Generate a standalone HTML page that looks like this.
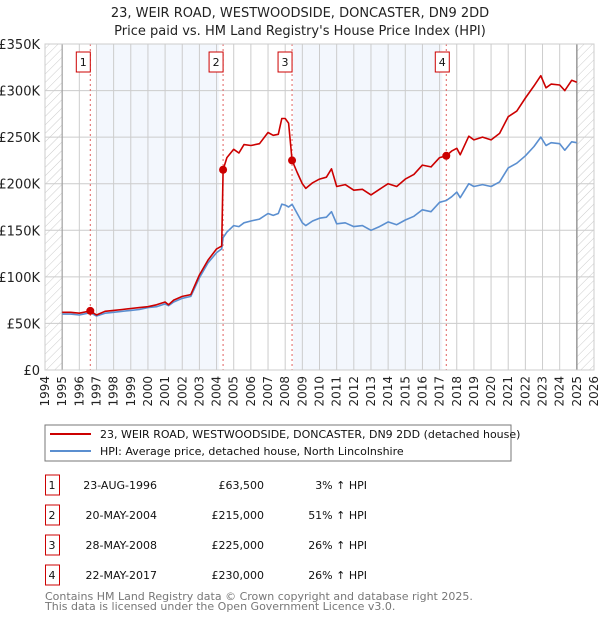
<!DOCTYPE html>
<html><head><meta charset="utf-8"><style>
body{margin:0;background:#fff;font-family:"DejaVu Sans","Liberation Sans",sans-serif;}
svg text{font-family:"DejaVu Sans","Liberation Sans",sans-serif;}
</style></head><body>
<svg id="c" width="600" height="620" xmlns="http://www.w3.org/2000/svg">
<defs><pattern id="hatch" width="6" height="6" patternUnits="userSpaceOnUse" patternTransform="rotate(45)"><line x1="0" y1="0" x2="0" y2="6" stroke="#ccc" stroke-width="1"/></pattern></defs>
<text x="300" y="17" text-anchor="middle" font-size="13" fill="#222">23, WEIR ROAD, WESTWOODSIDE, DONCASTER, DN9 2DD</text>
<text x="300" y="35" text-anchor="middle" font-size="13" fill="#222">Price paid vs. HM Land Registry's House Price Index (HPI)</text>
<g id="plot"></g>
<rect x="45" y="425" width="466" height="36" fill="#fff" stroke="#777"/>
<line x1="50" y1="434" x2="91" y2="434" stroke="#cc0000" stroke-width="2"/>
<text x="100" y="438" font-size="11" fill="#111">23, WEIR ROAD, WESTWOODSIDE, DONCASTER, DN9 2DD (detached house)</text>
<line x1="50" y1="451" x2="91" y2="451" stroke="#5b8fd0" stroke-width="2"/>
<text x="100" y="455" font-size="11" fill="#111">HPI: Average price, detached house, North Lincolnshire</text>
<g id="table"></g>
<text x="45" y="600" font-size="11" fill="#777">Contains HM Land Registry data © Crown copyright and database right 2025.</text>
<text x="45" y="610" font-size="11" fill="#777">This data is licensed under the Open Government Licence v3.0.</text>
</svg>
<script>
const dates=[1995,1995.5,1996,1996.64,1997,1997.5,1998,1998.5,1999,1999.5,2000,2000.5,2001,2001.2,2001.5,2002,2002.5,2003,2003.5,2004,2004.3,2004.38,2004.6,2005,2005.3,2005.6,2006,2006.5,2007,2007.3,2007.6,2007.8,2008,2008.2,2008.4,2008.7,2009,2009.2,2009.6,2010,2010.4,2010.7,2011,2011.5,2012,2012.5,2013,2013.5,2014,2014.5,2015,2015.5,2016,2016.5,2017,2017.39,2017.7,2018,2018.2,2018.7,2019,2019.5,2020,2020.5,2021,2021.5,2022,2022.5,2022.9,2023.2,2023.5,2024,2024.3,2024.7,2025];
const hpiValues=[60,60,59,61.5,58,61,62,63,64,65,67,68,71,69,73,77,79,99,115,126,130,142,148,155,154,158,160,162,168,166,168,178,177,175,178,168,158,155,160,163,164,170,157,158,154,155,150,154,159,156,161,165,172,170,180,182,186,191,185,200,197,199,197,202,217,222,230,240,250,241,244,243,236,245,244];
const propertyValues=[62,62,61,63.5,59,63,64,65,66,67,68,70,73,70,75,79,81,102,118,130,133,215,228,237,233,242,241,243,255,252,253,270,270,265,225,212,200,195,201,205,207,216,197,199,193,194,188,194,200,197,205,210,220,218,228,230,235,238,231,251,247,250,247,254,272,278,292,305,316,303,307,306,300,311,309];
const saleDates=[1996.64,2004.38,2008.4,2017.39];
const salePrices=[63.5,215,225,230];
const saleLabels=["1","2","3","4"];
const saleDateText=["23-AUG-1996","20-MAY-2004","28-MAY-2008","22-MAY-2017"];
const salePriceText=["£63,500","£215,000","£225,000","£230,000"];
const salePctText=["3% ↑ HPI","51% ↑ HPI","26% ↑ HPI","26% ↑ HPI"];
const yTicks=[0,50,100,150,200,250,300,350];
const yTickLabels=["£0","£50K","£100K","£150K","£200K","£250K","£300K","£350K"];
const xYears=[];for(let y=1994;y<=2026;y++)xYears.push(y);

const X0=45,X1=594,Y0=370,Y1=44,xmin=1994,xmax=2026,ymax=350;
const sx=v=>X0+(v-xmin)/(xmax-xmin)*(X1-X0);
const sy=v=>Y0-v/ymax*(Y0-Y1);
const NS="http://www.w3.org/2000/svg";
function mk(p,t,a){const e=document.createElementNS(NS,t);for(const k in a)e.setAttribute(k,a[k]);p.appendChild(e);return e;}
const g=document.getElementById('plot');
// shaded bands between sales
let b=mk(g,'rect',{x:97,y:Y1,width:sx(saleDates[1])-97-4,height:Y0-Y1,fill:'#eef3fc',opacity:0.7});


b=mk(g,'rect',{x:sx(saleDates[2])+1,y:Y1,width:sx(saleDates[3])-sx(saleDates[2])-5,height:Y0-Y1,fill:'#eef3fc',opacity:0.7});


// hatch
let h=mk(g,'rect',{x:X0,y:Y1,width:sx(1995)-X0,height:Y0-Y1,fill:'url(#hatch)'});


h=mk(g,'rect',{x:sx(2025),y:Y1,width:X1-sx(2025),height:Y0-Y1,fill:'url(#hatch)'});


// grid
xYears.forEach(y=>{const l=mk(g,'line',{x1:sx(y),x2:sx(y),y1:Y1,y2:Y0,stroke:'#ccc','stroke-width':1});


const t=mk(g,'text',{x:0,y:0,'font-size':12,fill:'#222','text-anchor':'end',transform:`translate(${sx(y)+4},${Y0+6}) rotate(-90)`});t.textContent=y;

});
yTicks.forEach((v,i)=>{const l=mk(g,'line',{x1:X0,x2:X1,y1:sy(v),y2:sy(v),stroke:'#ccc','stroke-width':1});


const t=mk(g,'text',{x:40,y:sy(v)+5,'font-size':13,fill:'#222','text-anchor':'end'});t.textContent=yTickLabels[i];

});
let ax=mk(g,'line',{x1:sx(1995),x2:sx(1995),y1:Y1,y2:Y0,stroke:'#999','stroke-width':1});


ax=mk(g,'line',{x1:sx(2025),x2:sx(2025),y1:Y1,y2:Y0,stroke:'#999','stroke-width':1.5});


// sale markers
saleDates.forEach((d,i)=>{const l=mk(g,'line',{x1:sx(d),x2:sx(d),y1:Y1,y2:Y0,stroke:'#e06060','stroke-width':1,'stroke-dasharray':'2,3'});


const r=mk(g,'rect',{x:sx(d)-11-(i==3?0:3),y:52,width:14,height:20,fill:'#fff',stroke:'#cc0000'});


const t=mk(g,'text',{x:sx(d)-4-(i==3?0:3),y:66,'font-size':11,'text-anchor':'middle',fill:'#111'});t.textContent=saleLabels[i];

});
// lines
const pth=vals=>dates.map((d,i)=>(i?'L':'M')+sx(d).toFixed(1)+','+sy(vals[i]).toFixed(1)).join('');
let p=mk(g,'path',{d:pth(hpiValues),fill:'none',stroke:'#5b8fd0','stroke-width':1.6,'stroke-linejoin':'round'});


p=mk(g,'path',{d:pth(propertyValues),fill:'none',stroke:'#cc0000','stroke-width':1.6,'stroke-linejoin':'round'});


saleDates.forEach((d,i)=>{const c=mk(g,'circle',{cx:sx(d),cy:sy(salePrices[i]),r:4,fill:'#cc0000'});

});
mk(g,'rect',{x:X0,y:Y1,width:X1-X0,height:Y0-Y1,fill:'none',stroke:'#ccc'});
// table
const tb=document.getElementById('table');
saleLabels.forEach((s,i)=>{const cy=485+i*30;
const r=mk(tb,'rect',{x:45.5,y:cy-10,width:14,height:20,fill:'#fff',stroke:'#cc0000'});


const cols=[[52,s,'middle','table-sale-number'],[157,saleDateText[i],'end','table-sale-date'],[264,salePriceText[i],'end','table-sale-price'],[367,salePctText[i],'end','table-sale-hpi-diff']];
cols.forEach(c=>{const t=mk(tb,'text',{x:c[0],y:cy+4,'font-size':11,'text-anchor':c[2],fill:'#111'});t.textContent=c[1];

});});
</script>
</body></html>
